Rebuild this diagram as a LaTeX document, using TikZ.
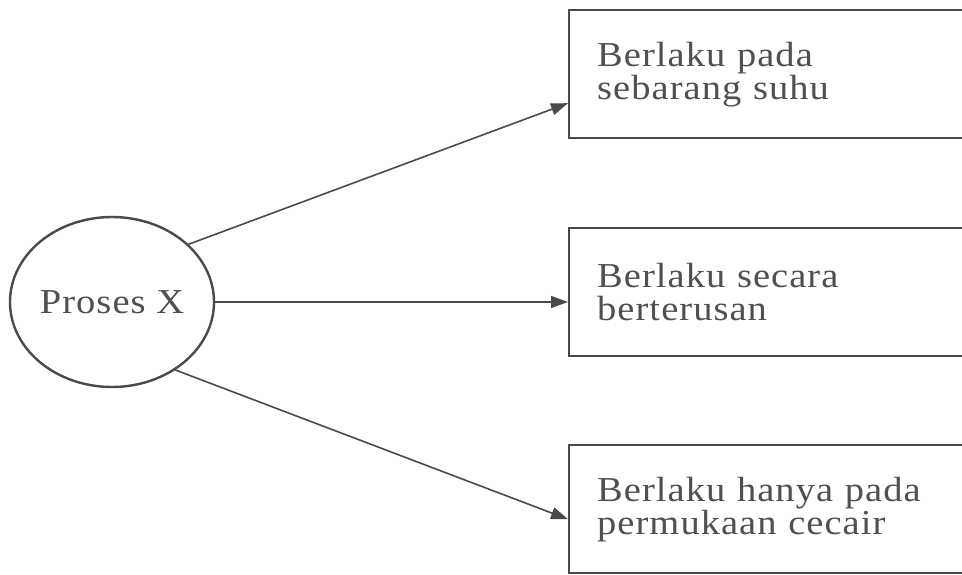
\documentclass[tikz,border=0pt]{standalone}
\usepackage{fontspec}
\setmainfont{Liberation Serif}[FakeStretch=1.1,LetterSpace=3]
\usetikzlibrary{shapes.geometric,arrows.meta}
\definecolor{ink}{HTML}{4A4A4A}
\definecolor{txt}{HTML}{505050}
\begin{document}
\begin{tikzpicture}[x=1pt,y=-1pt,
  box/.style={draw=ink,line width=2.4pt,rectangle,anchor=north west,
    minimum width=396pt,minimum height=128pt,inner xsep=28pt,inner ysep=0pt,
    text width=340pt,align=left,text=txt,font=\fontsize{35}{33}\selectfont},
  proc/.style={draw=ink,line width=2.4pt,ellipse,minimum width=200pt,
    minimum height=170pt,inner sep=0pt,text=txt,font=\fontsize{35}{33}\selectfont},
  arr/.style={draw=ink,line width=1.6pt,-{Triangle[length=17pt,width=12pt]}}]
\useasboundingbox (0,0) rectangle (962,574);
\fill[white] (0,0) rectangle (962,574);
\node[proc] (c) at (112,302) {Proses X};
\node[box] (b1) at (568,9) {Berlaku pada\\sebarang suhu};
\node[box] (b2) at (568,227) {Berlaku secara\\berterusan};
\node[box] (b3) at (568,444) {Berlaku hanya pada\\permukaan cecair};
\draw[arr] (c.37.7) -- ([yshift=-29pt]b1.west);
\draw[arr] (c.east) -- (c.east -| b2.west);
\draw[arr] (c.-47.6) -- ([yshift=-10pt]b3.west);
\end{tikzpicture}
\end{document}
